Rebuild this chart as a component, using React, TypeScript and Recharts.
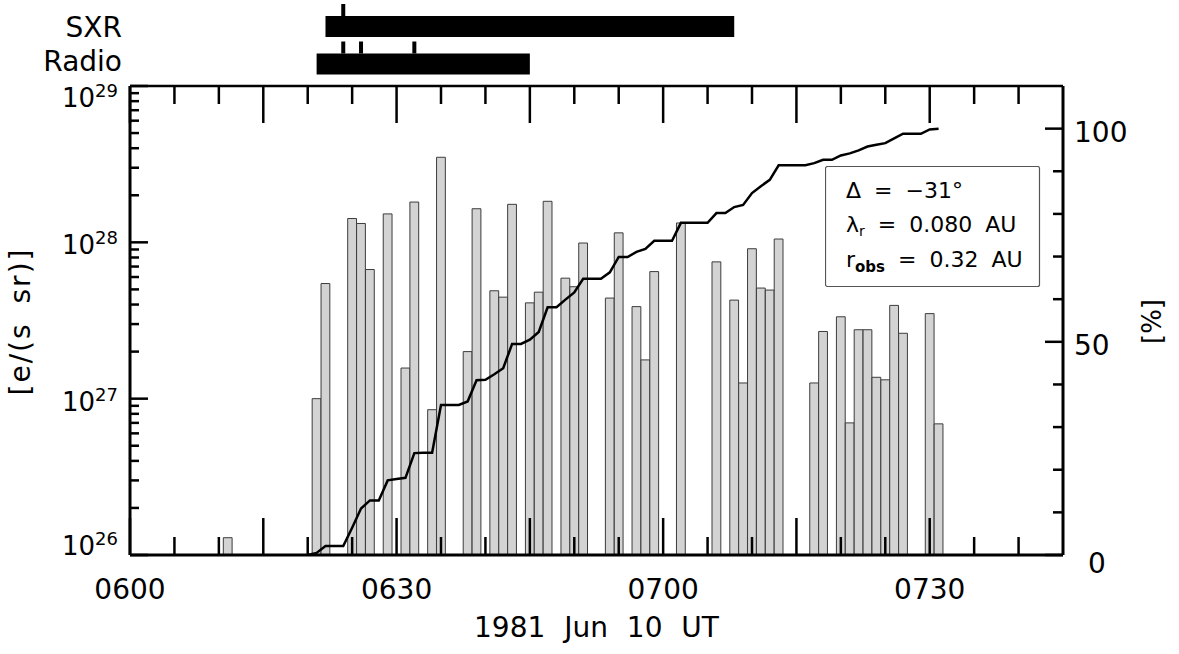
import React from 'react'
import { ComposedChart, BarChart, Bar, Line, XAxis, YAxis, Legend } from 'recharts'

// time axis is in minutes after 0600 UT
const barMinutes = [11, 21, 22, 25, 26, 27, 29, 31, 32, 34, 35, 38, 39, 41, 42, 43, 45, 46, 47, 49, 50, 51, 54, 55, 57, 58, 59, 62, 66, 68, 69, 70, 71, 72, 73, 77, 78, 80, 81, 82, 83, 84, 85, 86, 87, 90, 91]
const barFlux = [
  1.29e26, 1.0e27, 5.45e27, 1.42e28, 1.32e28, 6.7e27, 1.52e28, 1.57e27, 1.81e28, 8.5e26,
  3.5e28, 2.0e27, 1.64e28, 4.9e27, 4.46e27, 1.75e28, 4.1e27, 4.8e27, 1.83e28, 5.9e27,
  5.2e27, 9.9e27, 4.4e27, 1.15e28, 3.88e27, 1.77e27, 6.5e27, 1.33e28, 7.5e27, 4.27e27,
  1.26e27, 9.1e27, 5.1e27, 4.95e27, 1.05e28, 1.26e27, 2.69e27, 3.34e27, 7.0e26, 2.76e27,
  2.76e27, 1.37e27, 1.32e27, 3.95e27, 2.62e27, 3.5e27, 6.9e26,
]

const cumMinutes = [
  20, 21, 22, 23, 24, 25, 26, 27, 28, 29, 30, 31, 32, 33, 34, 35, 36, 37, 38, 39,
  40, 41, 42, 43, 44, 45, 46, 47, 48, 49, 50, 51, 52, 53, 54, 55, 56, 57, 58, 59,
  60, 61, 62, 63, 64, 65, 66, 67, 68, 69, 70, 71, 72, 73, 74, 75, 76, 77, 78, 79,
  80, 81, 82, 83, 84, 85, 86, 87, 88, 89, 90, 91,
]
const cumPercent = [
  0, 0.5, 2.1, 2.1, 2.1, 6.4, 10.9, 12.8, 12.8, 17.5, 17.8, 18.1, 23.9, 24.0, 24.0, 35.2, 35.2, 35.2, 36.0, 41.0,
  41.1, 42.4, 43.8, 49.5, 49.5, 50.5, 52.3, 58.1, 58.1, 59.9, 61.6, 64.8, 64.8, 64.8, 66.3, 69.9, 69.9, 71.1, 71.8, 73.7,
  73.7, 73.7, 77.9, 77.9, 77.9, 77.9, 80.2, 80.2, 81.6, 82.1, 84.9, 86.5, 88.0, 91.4, 91.4, 91.4, 91.4, 91.9, 92.7, 92.7,
  93.7, 94.2, 94.9, 95.8, 96.2, 96.6, 97.7, 98.8, 98.8, 98.8, 99.8, 100.0,
]

const timeTicks = [0, 5, 10, 15, 20, 25, 30, 35, 40, 45, 50, 55, 60, 65, 70, 75, 80, 85, 90, 95, 100]
const timeLabelAt = [0, 30, 60, 90]
const timeLabelText = ['0600', '0630', '0700', '0730']
const fluxDecades = [26, 27, 28, 29]
const percentTicks = [0, 10, 20, 30, 40, 50, 60, 70, 80, 90, 100]
const percentLabelAt = [0, 50, 100]

const eventNames = ['SXR', 'Radio']
const eventSpans = [[22, 68], [21, 45]]
const eventPeaks = [[24], [24, 26, 32]]

const FONT = '"DejaVu Sans", sans-serif'
const W = 1179
const H = 654
const PLOT_TOP = 86
const PLOT_BOTTOM = 555

const allMinutes = Array.from(new Set([...barMinutes, ...cumMinutes])).sort((a, b) => a - b)
const chartData = allMinutes.map((t) => {
  const bi = barMinutes.indexOf(t)
  const ci = cumMinutes.indexOf(t)
  return { t, flux: bi >= 0 ? barFlux[bi] : null, pct: ci >= 0 ? cumPercent[ci] : null }
})

const fluxTicks = fluxDecades
  .slice(0, -1)
  .flatMap((e) => [1, 2, 3, 4, 5, 6, 7, 8, 9].map((k) => k * 10 ** e))
  .concat([10 ** fluxDecades[fluxDecades.length - 1]])

const eventData = eventNames.map((name, i) => ({ name, span: eventSpans[i], peaks: eventPeaks[i] }))

const BottomTick = ({ x, y, payload }: any) => {
  const v = payload.value
  const len = v % 15 === 0 ? 37 : 18
  const li = timeLabelAt.indexOf(v)
  return (
    <g>
      <line x1={x} x2={x} y1={y} y2={y - len} stroke="#000" strokeWidth={2.5} />
      {li >= 0 && (
        <text x={x} y={y + 44} textAnchor="middle" fontSize={28} fontFamily={FONT} fill="#000">
          {timeLabelText[li]}
        </text>
      )}
    </g>
  )
}

const TopTick = ({ x, y, payload }: any) => {
  const len = payload.value % 15 === 0 ? 37 : 18
  return <line x1={x} x2={x} y1={y} y2={y + len} stroke="#000" strokeWidth={2.5} />
}

const FluxTick = ({ x, y, payload }: any) => {
  const lg = Math.log10(payload.value)
  const exp = Math.round(lg)
  const major = Math.abs(lg - exp) < 1e-6
  const base = Math.min(Math.max(y + 12, PLOT_TOP + 21), PLOT_BOTTOM)
  return (
    <g>
      <line x1={x} x2={x + (major ? 18 : 9)} y1={y} y2={y} stroke="#000" strokeWidth={2.5} />
      {major && (
        <text x={x - 12} y={base} textAnchor="end" fontSize={26} fontFamily={FONT} fill="#000">
          10
          <tspan fontSize={18} dy={-10}>{exp}</tspan>
        </text>
      )}
    </g>
  )
}

const PercentTick = ({ x, y, payload }: any) => {
  const v = payload.value
  const major = percentLabelAt.includes(v)
  return (
    <g>
      <line x1={x} x2={x - (major ? 18 : 10)} y1={y} y2={y} stroke="#000" strokeWidth={2.5} />
      {major && (
        <text x={x + (v === 0 ? 25 : 11)} y={y + (v === 0 ? 18 : 13)} fontSize={28} fontFamily={FONT} fill="#000">
          {v}
        </text>
      )}
    </g>
  )
}

const EventTick = ({ x, y, payload }: any) => (
  <text x={x} y={y + (payload.value === 'Radio' ? 7 : 10)} textAnchor="end" fontSize={28} fontFamily={FONT} fill="#000">
    {payload.value}
  </text>
)

const EventShape = ({ x, y, width, height, payload }: any) => {
  const [s, e] = payload.span
  return (
    <g>
      <rect x={x} y={y} width={width} height={height} fill="#000" />
      {payload.peaks.map((pk: number) => (
        <rect key={pk} x={x + ((pk - s) / (e - s)) * width - 2} y={y - 12} width={4} height={12} fill="#000" />
      ))}
    </g>
  )
}

const timeTitle = (p: any) => {
  const vb = p.viewBox || { x: 130, y: 555, width: 933, height: 99 }
  return (
    <text x={vb.x + vb.width / 2} y={vb.y + vb.height - 17} textAnchor="middle" fontSize={28} fontFamily={FONT} fill="#000" style={{ wordSpacing: 10 }}>
      1981 Jun 10 UT
    </text>
  )
}

const fluxTitle = (p: any) => {
  const vb = p.viewBox || { x: 0, y: 86, width: 130, height: 469 }
  const cx = vb.x + 20
  const cy = vb.y + vb.height / 2 + 1
  return (
    <text x={cx} y={cy} transform={`rotate(-90, ${cx}, ${cy})`} textAnchor="middle" dominantBaseline="central" fontSize={28} fontFamily={FONT} fill="#000" style={{ letterSpacing: 2, wordSpacing: 8 }}>
      [e/(s sr)]
    </text>
  )
}

const percentTitle = (p: any) => {
  const vb = p.viewBox || { x: 1063, y: 86, width: 116, height: 469 }
  const cx = vb.x + vb.width - 27
  const cy = vb.y + vb.height / 2 + 1
  return (
    <text x={cx} y={cy} transform={`rotate(-90, ${cx}, ${cy})`} textAnchor="middle" dominantBaseline="central" fontSize={26} fontFamily={FONT} fill="#000">
      [%]
    </text>
  )
}

const ParamBox = () => (
  <svg width={216} height={122} style={{ display: 'block' }}>
    <rect x={0.5} y={0.5} width={214} height={120} rx={2} fill="#fff" stroke="#555" strokeWidth={1.2} />
    <g fontFamily={FONT} fontSize={22} fill="#000" style={{ wordSpacing: 6 }}>
      <text x={21} y={32}>Δ = −31°</text>
      <text x={21} y={66}>
        λ<tspan fontSize={14} dy={4}>r</tspan>
        <tspan dy={-4}> = 0.080 AU</tspan>
      </text>
      <text x={21} y={101}>
        r<tspan fontSize={15} dy={5} fontWeight="bold">obs</tspan>
        <tspan dy={-5}> = 0.32 AU</tspan>
      </text>
    </g>
  </svg>
)

export default function App() {
  return (
    <div style={{ position: 'absolute', left: 0, top: 0, width: W, height: H, background: '#fff', fontFamily: FONT }}>
      <div style={{ position: 'absolute', left: 0, top: 0 }}>
        <ComposedChart width={W} height={H} data={chartData} margin={{ top: 56, right: 0, bottom: 0, left: 0 }}>
          <Bar dataKey="flux" yAxisId="flux" fill="#d3d3d3" stroke="#3c3c3c" strokeWidth={1} barSize={8.8} isAnimationActive={false} />
          <Line dataKey="pct" yAxisId="pct" type="linear" stroke="#000" strokeWidth={2.5} dot={false} activeDot={false} isAnimationActive={false} />
          <XAxis dataKey="t" type="number" domain={[0, 105]} allowDataOverflow ticks={timeTicks} interval={0} height={99} tickSize={0} tickMargin={0} tickLine={false} tick={BottomTick} axisLine={{ stroke: '#000', strokeWidth: 3 }} label={timeTitle} />
          <XAxis xAxisId="top" orientation="top" dataKey="t" type="number" domain={[0, 105]} allowDataOverflow ticks={timeTicks} interval={0} height={30} tickSize={0} tickMargin={0} tickLine={false} tick={TopTick} axisLine={{ stroke: '#000', strokeWidth: 2.5 }} />
          <YAxis yAxisId="flux" type="number" scale="log" domain={[1e26, 1e29]} allowDataOverflow ticks={fluxTicks} interval={0} width={130} tickSize={0} tickMargin={0} tickLine={false} tick={FluxTick} axisLine={{ stroke: '#000', strokeWidth: 3 }} label={fluxTitle} />
          <YAxis yAxisId="pct" orientation="right" type="number" domain={[0, 110]} allowDataOverflow ticks={percentTicks} interval={0} width={116} tickSize={0} tickMargin={0} tickLine={false} tick={PercentTick} axisLine={{ stroke: '#000', strokeWidth: 3 }} label={percentTitle} />
          <Legend verticalAlign="middle" align="center" layout="horizontal" content={() => <ParamBox />} wrapperStyle={{ position: 'absolute', left: 825, top: 166, width: 216, height: 122 }} />
        </ComposedChart>
      </div>
      <div style={{ position: 'absolute', left: 0, top: 0 }}>
        <BarChart width={W} height={86} data={eventData} layout="vertical" margin={{ top: 8, right: 116, bottom: 3, left: 0 }} barCategoryGap={0}>
          <XAxis type="number" domain={[0, 105]} allowDataOverflow hide />
          <YAxis type="category" dataKey="name" width={130} axisLine={false} tickLine={false} tickSize={0} tickMargin={8} tick={EventTick} interval={0} />
          <Bar dataKey="span" barSize={21} fill="#000" shape={EventShape} isAnimationActive={false} />
        </BarChart>
      </div>
    </div>
  )
}
